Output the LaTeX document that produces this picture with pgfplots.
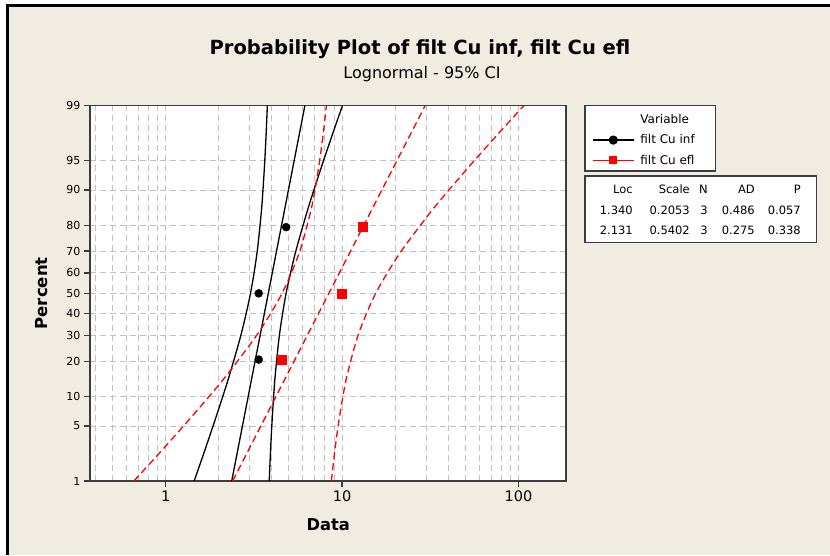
\documentclass[border=0pt]{standalone}
\usepackage{pgfplots}
\pgfplotsset{compat=1.18}
\usepackage{fontspec}
\setmainfont{DejaVu Sans}
\definecolor{bgbeige}{RGB}{241,236,226}
\definecolor{gridgray}{RGB}{192,192,192}
\definecolor{mred}{RGB}{255,0,0}
\definecolor{frame}{RGB}{60,60,60}

\begin{document}
\begin{tikzpicture}
\path[use as bounding box] (0pt,0pt) rectangle (830pt,555pt);
\fill[white] (0pt,0pt) rectangle (830pt,555pt);
\fill[bgbeige] (8.5pt,0pt) rectangle (830pt,547.5pt);
\fill[black] (6pt,0pt) rectangle (8.5pt,551pt);
\fill[black] (6pt,547.5pt) rectangle (830pt,551pt);

% title
\node[anchor=base, inner sep=0pt, font=\bfseries\fontsize{19.5}{21}\selectfont] at (420pt,500pt) {Probability Plot of filt Cu inf, filt Cu efl};
\node[anchor=base, inner sep=0pt, font=\fontsize{16}{17}\selectfont] at (422pt,476.7pt) {Lognormal - 95\% CI};

% legend and table boxes
\draw[fill=white, draw=frame, line width=1.2pt] (585pt,449.3pt) rectangle (715.7pt,384pt);
\draw[fill=white, draw=frame, line width=1.2pt] (585pt,379pt) rectangle (816.7pt,312.3pt);

\begin{axis}[
  at={(90pt,74pt)}, anchor=south west,
  width=476pt, height=375.3pt, scale only axis,
  axis background/.style={fill=white},
  xmode=log, xmin=0.3724, xmax=186.2,
  ymin=-2.3263, ymax=2.3263,
  xtick={1,10,100}, xticklabels={1,10,100},
  minor xtick={0.4,0.5,0.6,0.7,0.8,0.9,2,3,4,5,6,7,8,9,20,30,40,50,60,70,80,90},
  ytick={-2.3263,-1.6449,-1.2816,-0.8416,-0.5244,-0.2533,0,0.2533,0.5244,0.8416,1.2816,1.6449,2.3263},
  yticklabels={1,5,10,20,30,40,50,60,70,80,90,95,99},
  xmajorgrids, xminorgrids, ymajorgrids,
  grid style={gridgray, dash pattern=on 6pt off 4pt, line width=0.9pt},
  major grid style={gridgray, dash pattern=on 6pt off 4pt, line width=0.9pt},
  minor grid style={gridgray, dash pattern=on 6pt off 4pt, line width=0.9pt},
  axis line style={frame, line width=1.3pt},
  tick style={frame, line width=1.2pt},
  major tick length=6pt, minor tick length=0pt,
  tick align=outside, xtick pos=bottom, ytick pos=left,
  xticklabel style={font=\fontsize{14.5}{15}\selectfont},
  yticklabel style={font=\fontsize{11}{12}\selectfont},
  xlabel={Data},
  xlabel style={at={(axis description cs:0.5006,-0.1172)}, anchor=center, font=\bfseries\fontsize{16.3}{17}\selectfont},
  ylabel={Percent},
  ylabel style={at={(axis description cs:-0.1015,0.5)}, anchor=center, font=\bfseries\fontsize{16.5}{17}\selectfont},
  legend style={draw=none, fill=none, at={(axis description cs:1.0546,0.982)}, anchor=north west,
    font=\fontsize{12}{13}\selectfont, row sep=5.5pt, inner sep=0pt,
    /tikz/every odd column/.append style={column sep=4pt}},
  legend cell align=left,
  legend image code/.code={\draw[mark repeat=2,mark phase=2,#1] plot coordinates {(0pt,0pt) (20.5pt,0pt) (41pt,0pt)};},
]
% black: fit and CI
\addplot[black, line width=1.3pt, forget plot] coordinates {(2.3690,-2.3263) (6.1564,2.3263)};
\addplot[black, line width=1.3pt, smooth, forget plot] coordinates {
(1.4515,-2.3263) (1.6352,-2) (1.8567,-1.6449) (2.1055,-1.2816) (2.3106,-1) (2.6840,-0.5)
(3.0274,0) (3.2956,0.5) (3.4837,1) (3.5633,1.2816) (3.6480,1.6449) (3.7172,2) (3.7718,2.3263)};
\addplot[black, line width=1.3pt, smooth, forget plot] coordinates {
(3.867,-2.3263) (3.924,-2) (3.998,-1.6449) (4.093,-1.2816) (4.187,-1) (4.426,-0.5)
(4.818,0) (5.435,0.5) (6.312,1) (6.927,1.2816) (7.855,1.6449) (8.918,2) (10.049,2.3263)};
% red: fit and CI
\addplot[mred, line width=1.3pt, dash pattern=on 7pt off 4pt, forget plot] coordinates {(2.3977,-2.3263) (29.59,2.3263)};
\addplot[mred, line width=1.3pt, smooth, dash pattern=on 7pt off 4pt, forget plot] coordinates {
(0.6606,-2.3263) (0.9040,-2) (1.2629,-1.6449) (1.7578,-1.2816) (2.2450,-1) (3.3295,-0.5)
(4.5711,0) (5.7145,0.5) (6.6135,1) (7.0197,1.2816) (7.4680,1.6449) (7.8454,2) (8.1533,2.3263)};
\addplot[mred, line width=1.3pt, smooth, dash pattern=on 7pt off 4pt, forget plot] coordinates {
(8.702,-2.3263) (9.044,-2) (9.501,-1.6449) (10.108,-1.2816) (10.729,-1) (12.417,-0.5)
(15.523,0) (21.312,0.5) (31.605,1) (40.369,1.2816) (56.19,1.6449) (78.50,2) (107.4,2.3263)};
% data points
\addplot[only marks, mark=*, mark size=4pt, black, forget plot] coordinates {(3.37,-0.8208) (3.37,0) (4.82,0.8208)};
\addplot[only marks, mark=square*, mark size=4.5pt, mred, forget plot] coordinates {(4.55,-0.8208) (10.0,0) (13.1,0.8208)};
% legend
\addlegendimage{empty legend}\addlegendentry{Variable}
\addlegendimage{black, mark=*, mark size=4pt, line width=1.2pt}\addlegendentry{filt Cu inf}
\addlegendimage{mred, mark=square*, mark size=3.5pt, line width=1.2pt}\addlegendentry{filt Cu efl}
\end{axis}

% statistics table
\begin{scope}[every node/.style={anchor=base east, inner sep=0pt, font=\fontsize{11.5}{12}\selectfont}]
\node at (633pt,361pt) {Loc};
\node at (690pt,361pt) {Scale};
\node at (708pt,361pt) {N};
\node at (755pt,361pt) {AD};
\node at (801pt,361pt) {P};
\node at (633pt,340.7pt) {1.340};
\node at (690pt,340.7pt) {0.2053};
\node at (708pt,340.7pt) {3};
\node at (755pt,340.7pt) {0.486};
\node at (801pt,340.7pt) {0.057};
\node at (633pt,320.7pt) {2.131};
\node at (690pt,320.7pt) {0.5402};
\node at (708pt,320.7pt) {3};
\node at (755pt,320.7pt) {0.275};
\node at (801pt,320.7pt) {0.338};
\end{scope}
\end{tikzpicture}
\end{document}
